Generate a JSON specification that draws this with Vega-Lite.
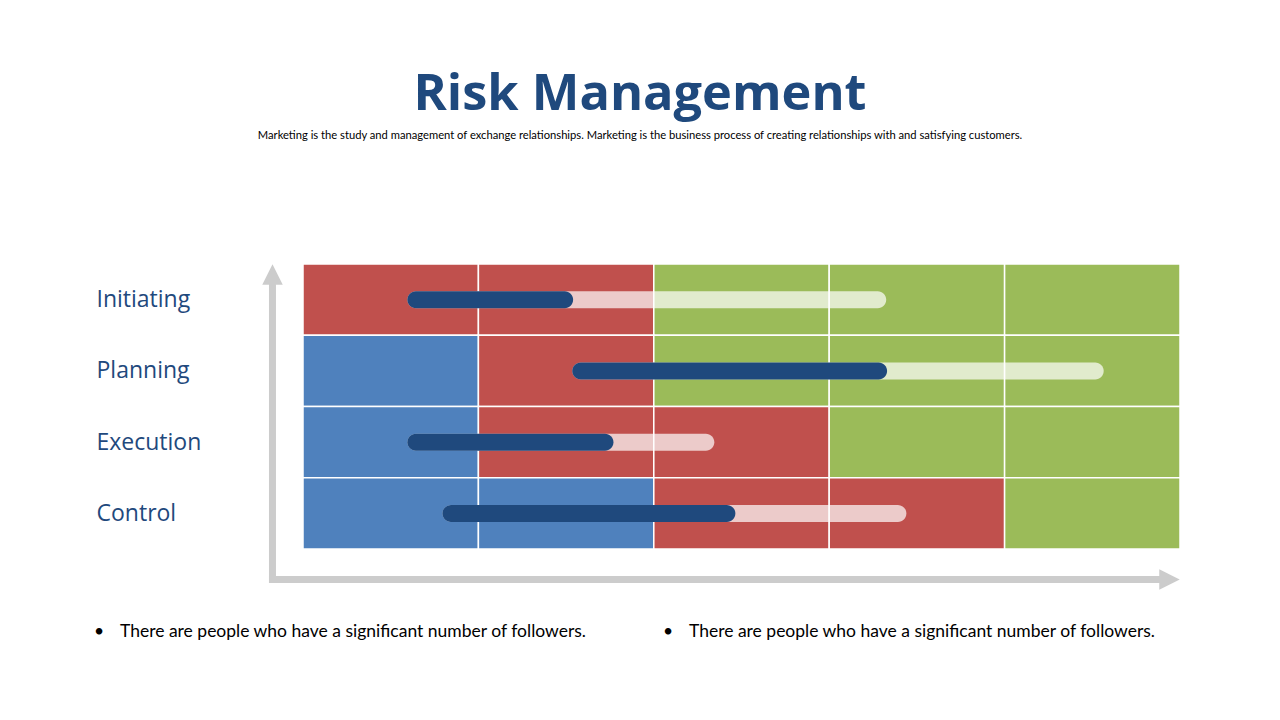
{
  "$schema": "https://vega.github.io/schema/vega-lite/v6.json",
  "width": 877,
  "height": 285,
  "autosize": {"type": "none"},
  "padding": {"left": 303, "top": 264, "right": 100, "bottom": 171},
  "background": "white",
  "config": {"view": {"stroke": null}},
  "title": {
    "text": "Risk Management",
    "subtitle": "Marketing is the study and management of exchange relationships. Marketing is the  business process of creating relationships with and satisfying customers.",
    "anchor": "middle",
    "frame": "group",
    "dx": -101.5,
    "offset": 122,
    "font": "Open Sans",
    "fontSize": 50.5,
    "fontWeight": "bold",
    "color": "#1F497D",
    "subtitleFont": "Lato",
    "subtitleFontSize": 11.2,
    "subtitleColor": "#000000",
    "subtitlePadding": 10
  },
  "datasets": {
    "cells": [
      {"stage": "Initiating", "lo": 3, "hi": 4, "start": 0, "end": 20, "zone": "High"},
      {"stage": "Initiating", "lo": 3, "hi": 4, "start": 20, "end": 40, "zone": "High"},
      {"stage": "Initiating", "lo": 3, "hi": 4, "start": 40, "end": 60, "zone": "Safe"},
      {"stage": "Initiating", "lo": 3, "hi": 4, "start": 60, "end": 80, "zone": "Safe"},
      {"stage": "Initiating", "lo": 3, "hi": 4, "start": 80, "end": 100, "zone": "Safe"},
      {"stage": "Planning", "lo": 2, "hi": 3, "start": 0, "end": 20, "zone": "Low"},
      {"stage": "Planning", "lo": 2, "hi": 3, "start": 20, "end": 40, "zone": "High"},
      {"stage": "Planning", "lo": 2, "hi": 3, "start": 40, "end": 60, "zone": "Safe"},
      {"stage": "Planning", "lo": 2, "hi": 3, "start": 60, "end": 80, "zone": "Safe"},
      {"stage": "Planning", "lo": 2, "hi": 3, "start": 80, "end": 100, "zone": "Safe"},
      {"stage": "Execution", "lo": 1, "hi": 2, "start": 0, "end": 20, "zone": "Low"},
      {"stage": "Execution", "lo": 1, "hi": 2, "start": 20, "end": 40, "zone": "High"},
      {"stage": "Execution", "lo": 1, "hi": 2, "start": 40, "end": 60, "zone": "High"},
      {"stage": "Execution", "lo": 1, "hi": 2, "start": 60, "end": 80, "zone": "Safe"},
      {"stage": "Execution", "lo": 1, "hi": 2, "start": 80, "end": 100, "zone": "Safe"},
      {"stage": "Control", "lo": 0, "hi": 1, "start": 0, "end": 20, "zone": "Low"},
      {"stage": "Control", "lo": 0, "hi": 1, "start": 20, "end": 40, "zone": "Low"},
      {"stage": "Control", "lo": 0, "hi": 1, "start": 40, "end": 60, "zone": "High"},
      {"stage": "Control", "lo": 0, "hi": 1, "start": 60, "end": 80, "zone": "High"},
      {"stage": "Control", "lo": 0, "hi": 1, "start": 80, "end": 100, "zone": "Safe"}
    ],
    "bars": [
      {"stage": "Initiating", "mid": 3.5, "start": 11.9, "done": 30.8, "end": 66.5},
      {"stage": "Planning", "mid": 2.5, "start": 30.7, "done": 66.6, "end": 91.3},
      {"stage": "Execution", "mid": 1.5, "start": 11.9, "done": 35.4, "end": 46.9},
      {"stage": "Control", "mid": 0.5, "start": 15.9, "done": 49.3, "end": 68.8}
    ],
    "notes": [
      {"note": "There are people who have a significant number of followers."}
    ]
  },
  "layer": [
    {
      "data": {"name": "cells"},
      "mark": {"type": "rect", "stroke": "white", "strokeWidth": 1.5},
      "encoding": {
        "x": {"field": "start", "type": "quantitative", "scale": {"domain": [0, 100], "nice": false, "zero": false, "padding": 0}, "axis": null},
        "x2": {"field": "end"},
        "y": {
          "field": "lo", "type": "quantitative",
          "scale": {"domain": [0, 4], "nice": false, "zero": false, "padding": 0},
          "axis": {
            "title": null, "values": [0.5, 1.5, 2.5, 3.5],
            "labelExpr": "datum.value == 3.5 ? 'Initiating' : datum.value == 2.5 ? 'Planning' : datum.value == 1.5 ? 'Execution' : 'Control'",
            "domain": false, "ticks": false, "tickSize": 0, "grid": false,
            "labelAlign": "left", "labelBaseline": "middle", "labelPadding": 207,
            "labelFont": "Open Sans", "labelFontSize": 23, "labelColor": "#1F497D"
          }
        },
        "y2": {"field": "hi"},
        "color": {
          "field": "zone", "type": "nominal",
          "scale": {"domain": ["Low", "High", "Safe"], "range": ["#4F81BD", "#C0504D", "#9BBB59"]},
          "legend": null
        }
      }
    },
    {
      "data": {"name": "bars"},
      "mark": {"type": "bar", "height": 17, "cornerRadius": 8.5, "color": "white", "opacity": 0.7},
      "encoding": {
        "x": {"field": "start", "type": "quantitative", "axis": null},
        "x2": {"field": "end"},
        "y": {"field": "mid", "type": "quantitative", "axis": {
            "title": null, "values": [0.5, 1.5, 2.5, 3.5],
            "labelExpr": "datum.value == 3.5 ? 'Initiating' : datum.value == 2.5 ? 'Planning' : datum.value == 1.5 ? 'Execution' : 'Control'",
            "domain": false, "ticks": false, "tickSize": 0, "grid": false,
            "labelAlign": "left", "labelBaseline": "middle", "labelPadding": 207,
            "labelFont": "Open Sans", "labelFontSize": 23, "labelColor": "#1F497D"
          }}
      }
    },
    {
      "data": {"name": "bars"},
      "mark": {"type": "bar", "height": 17, "cornerRadius": 8.5, "color": "#1F497D"},
      "encoding": {
        "x": {"field": "start", "type": "quantitative", "axis": null},
        "x2": {"field": "done"},
        "y": {"field": "mid", "type": "quantitative", "axis": {
            "title": null, "values": [0.5, 1.5, 2.5, 3.5],
            "labelExpr": "datum.value == 3.5 ? 'Initiating' : datum.value == 2.5 ? 'Planning' : datum.value == 1.5 ? 'Execution' : 'Control'",
            "domain": false, "ticks": false, "tickSize": 0, "grid": false,
            "labelAlign": "left", "labelBaseline": "middle", "labelPadding": 207,
            "labelFont": "Open Sans", "labelFontSize": 23, "labelColor": "#1F497D"
          }}
      }
    },
    {
      "data": {"values": [{"axis": "vertical"}]},
      "mark": {"type": "rule", "color": "#CCCCCC", "strokeWidth": 7},
      "encoding": {
        "x": {"datum": -3.48, "type": "quantitative", "axis": null},
        "y": {"datum": -0.477, "type": "quantitative", "axis": {
            "title": null, "values": [0.5, 1.5, 2.5, 3.5],
            "labelExpr": "datum.value == 3.5 ? 'Initiating' : datum.value == 2.5 ? 'Planning' : datum.value == 1.5 ? 'Execution' : 'Control'",
            "domain": false, "ticks": false, "tickSize": 0, "grid": false,
            "labelAlign": "left", "labelBaseline": "middle", "labelPadding": 207,
            "labelFont": "Open Sans", "labelFontSize": 23, "labelColor": "#1F497D"
          }},
        "y2": {"datum": 3.85}
      }
    },
    {
      "data": {"values": [{"axis": "horizontal"}]},
      "mark": {"type": "rule", "color": "#CCCCCC", "strokeWidth": 7},
      "encoding": {
        "x": {"datum": -3.88, "type": "quantitative", "axis": null},
        "x2": {"datum": 98.8},
        "y": {"datum": -0.428, "type": "quantitative", "axis": {
            "title": null, "values": [0.5, 1.5, 2.5, 3.5],
            "labelExpr": "datum.value == 3.5 ? 'Initiating' : datum.value == 2.5 ? 'Planning' : datum.value == 1.5 ? 'Execution' : 'Control'",
            "domain": false, "ticks": false, "tickSize": 0, "grid": false,
            "labelAlign": "left", "labelBaseline": "middle", "labelPadding": 207,
            "labelFont": "Open Sans", "labelFontSize": 23, "labelColor": "#1F497D"
          }}
      }
    },
    {
      "data": {"values": [{"axis": "vertical"}]},
      "mark": {"type": "point", "shape": "M0,-1L1,1L-1,1Z", "size": 420, "filled": true, "color": "#CCCCCC", "opacity": 1},
      "encoding": {
        "x": {"datum": -3.48, "type": "quantitative", "axis": null},
        "y": {"datum": 3.853, "type": "quantitative", "axis": {
            "title": null, "values": [0.5, 1.5, 2.5, 3.5],
            "labelExpr": "datum.value == 3.5 ? 'Initiating' : datum.value == 2.5 ? 'Planning' : datum.value == 1.5 ? 'Execution' : 'Control'",
            "domain": false, "ticks": false, "tickSize": 0, "grid": false,
            "labelAlign": "left", "labelBaseline": "middle", "labelPadding": 207,
            "labelFont": "Open Sans", "labelFontSize": 23, "labelColor": "#1F497D"
          }}
      }
    },
    {
      "data": {"values": [{"axis": "horizontal"}]},
      "mark": {"type": "point", "shape": "M-1,-1L1,0L-1,1Z", "size": 420, "filled": true, "color": "#CCCCCC", "opacity": 1},
      "encoding": {
        "x": {"datum": 98.8, "type": "quantitative", "axis": null},
        "y": {"datum": -0.428, "type": "quantitative", "axis": {
            "title": null, "values": [0.5, 1.5, 2.5, 3.5],
            "labelExpr": "datum.value == 3.5 ? 'Initiating' : datum.value == 2.5 ? 'Planning' : datum.value == 1.5 ? 'Execution' : 'Control'",
            "domain": false, "ticks": false, "tickSize": 0, "grid": false,
            "labelAlign": "left", "labelBaseline": "middle", "labelPadding": 207,
            "labelFont": "Open Sans", "labelFontSize": 23, "labelColor": "#1F497D"
          }}
      }
    },
    {
      "data": {"name": "notes"},
      "encoding": {"y": {"datum": -1.165, "type": "quantitative", "axis": {
            "title": null, "values": [0.5, 1.5, 2.5, 3.5],
            "labelExpr": "datum.value == 3.5 ? 'Initiating' : datum.value == 2.5 ? 'Planning' : datum.value == 1.5 ? 'Execution' : 'Control'",
            "domain": false, "ticks": false, "tickSize": 0, "grid": false,
            "labelAlign": "left", "labelBaseline": "middle", "labelPadding": 207,
            "labelFont": "Open Sans", "labelFontSize": 23, "labelColor": "#1F497D"
          }}},
      "layer": [
        {
          "mark": {"type": "text", "align": "left", "baseline": "middle", "font": "Lato", "fontSize": 17.5, "color": "#000000"},
          "encoding": {"x": {"datum": -20.87, "type": "quantitative", "axis": null}, "text": {"field": "note"}}
        },
        {
          "mark": {"type": "text", "text": "•", "align": "center", "baseline": "middle", "font": "Lato", "fontSize": 17.5, "color": "#000000"},
          "encoding": {"x": {"datum": -23.26, "type": "quantitative", "axis": null}}
        },
        {
          "mark": {"type": "text", "align": "left", "baseline": "middle", "font": "Lato", "fontSize": 17.5, "color": "#000000"},
          "encoding": {"x": {"datum": 44.01, "type": "quantitative", "axis": null}, "text": {"field": "note"}}
        },
        {
          "mark": {"type": "text", "text": "•", "align": "center", "baseline": "middle", "font": "Lato", "fontSize": 17.5, "color": "#000000"},
          "encoding": {"x": {"datum": 41.62, "type": "quantitative", "axis": null}}
        }
      ]
    }
  ]
}
